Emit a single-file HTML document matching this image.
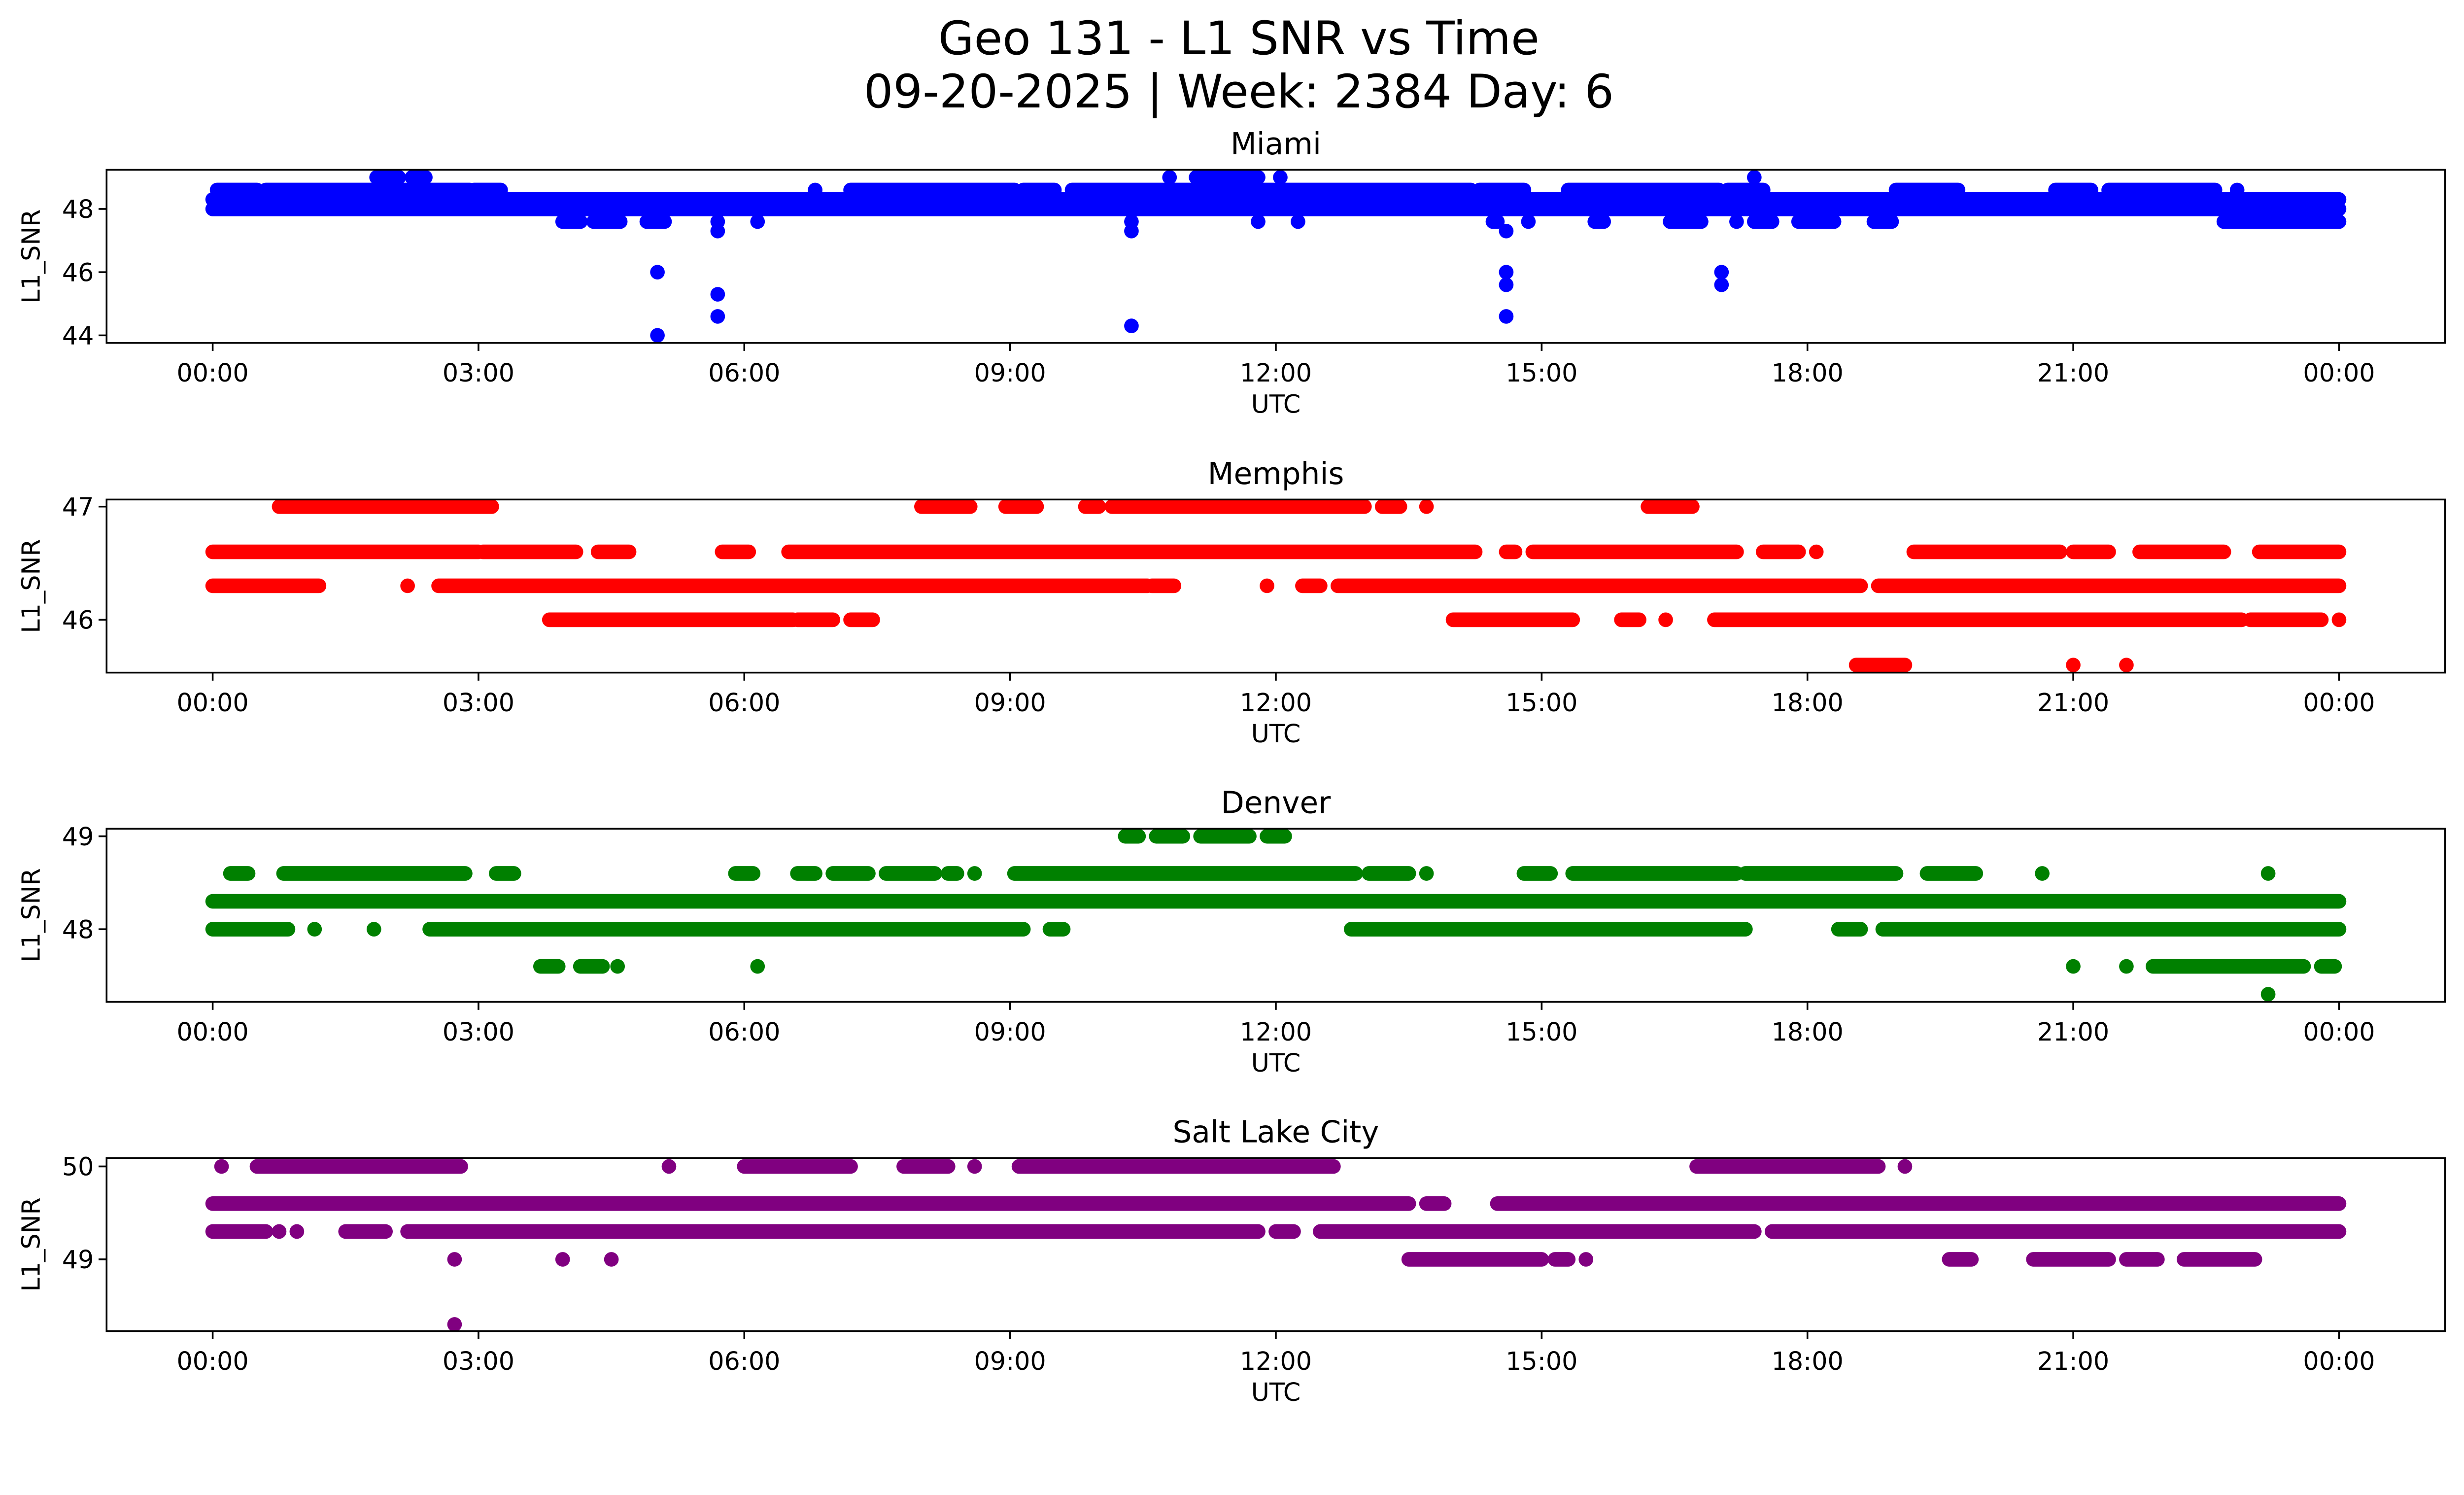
<!DOCTYPE html>
<html><head><meta charset="utf-8">
<style>
html,body{margin:0;padding:0;background:#fff;overflow:hidden;}
svg{display:block;width:100vw;height:calc(100vw * 3033 / 5225);font-family:"DejaVu Sans","Liberation Sans",sans-serif;}
</style></head>
<body>
<svg id="fig" viewBox="0 0 5225 3033" preserveAspectRatio="none" xmlns="http://www.w3.org/2000/svg">
<rect width="5225" height="3033" fill="#fff"/>
<text x="2627" y="115" font-size="98" text-anchor="middle">Geo 131 - L1 SNR vs Time</text>
<text x="2627" y="228" font-size="98" text-anchor="middle">09-20-2025 | Week: 2384 Day: 6</text>
<g id="plots"></g>
</svg>
<script>
// time ticks (hours) and labels
const xTickHours = [0,3,6,9,12,15,18,21,24];
const xTickLabels = ["00:00","03:00","06:00","09:00","12:00","15:00","18:00","21:00","00:00"];

// runs: [startHour, endHour, SNR level]
const miamiRuns = [
 [0,24,48.0],[0,24,48.3],
 [0.05,0.5,48.6],[0.6,2.9,48.6],[2.95,3.25,48.6],[6.8,6.8,48.6],[7.2,9.05,48.6],[9.15,9.5,48.6],[9.7,14.2,48.6],[14.3,14.8,48.6],
 [15.3,17.0,48.6],[17.1,17.5,48.6],[19.0,19.7,48.6],[20.8,21.2,48.6],[21.4,22.6,48.6],[22.85,22.85,48.6],
 [1.85,2.1,49.0],[2.25,2.4,49.0],[10.8,10.8,49.0],[11.1,11.8,49.0],[12.05,12.05,49.0],[17.4,17.4,49.0],
 [3.95,4.15,47.6],[4.3,4.6,47.6],[4.9,5.1,47.6],[5.7,5.7,47.6],[6.15,6.15,47.6],[10.37,10.37,47.6],[11.8,11.8,47.6],[12.25,12.25,47.6],
 [14.45,14.5,47.6],[14.85,14.85,47.6],[15.6,15.7,47.6],[16.45,16.8,47.6],[17.2,17.2,47.6],[17.4,17.6,47.6],[17.9,18.3,47.6],[18.75,18.95,47.6],[22.7,24,47.6],
 [5.7,5.7,47.3],[10.37,10.37,47.3],[14.6,14.6,47.3],
 [5.02,5.02,46.0],[5.02,5.02,44.0],[5.7,5.7,45.3],[5.7,5.7,44.6],[10.37,10.37,44.3],
 [14.6,14.6,46.0],[14.6,14.6,45.6],[14.6,14.6,44.6],[17.03,17.03,46.0],[17.03,17.03,45.6]
];
const memphisRuns = [
 [0,3.0,46.6],[3.05,4.1,46.6],[4.35,4.7,46.6],[5.75,6.05,46.6],[6.5,14.25,46.6],[14.6,14.7,46.6],[14.9,17.2,46.6],[17.5,17.9,46.6],[18.1,18.1,46.6],
 [19.2,20.85,46.6],[21.0,21.4,46.6],[21.75,22.7,46.6],[23.1,24,46.6],
 [0,1.2,46.3],[2.2,2.2,46.3],[2.55,10.55,46.3],[10.6,10.85,46.3],[11.9,11.9,46.3],[12.3,12.5,46.3],[12.7,18.6,46.3],[18.8,24,46.3],
 [0.75,3.15,47.0],[8.0,8.55,47.0],[8.95,9.3,47.0],[9.85,10.0,47.0],[10.15,13.0,47.0],[13.2,13.4,47.0],[13.7,13.7,47.0],[16.2,16.7,47.0],
 [3.8,6.55,46.0],[6.6,7.0,46.0],[7.2,7.45,46.0],[14.0,15.35,46.0],[15.9,16.1,46.0],[16.4,16.4,46.0],[16.95,22.9,46.0],[23.0,23.8,46.0],[24,24,46.0],
 [18.55,19.1,45.6],[21.0,21.0,45.6],[21.6,21.6,45.6]
];
const denverRuns = [
 [0,24,48.3],
 [0,0.85,48.0],[1.15,1.15,48.0],[1.82,1.82,48.0],[2.45,9.15,48.0],[9.45,9.6,48.0],[12.85,17.3,48.0],[18.35,18.6,48.0],[18.85,24,48.0],
 [0.2,0.4,48.6],[0.8,2.85,48.6],[3.2,3.4,48.6],[5.9,6.1,48.6],[6.6,6.8,48.6],[7.0,7.4,48.6],[7.6,8.15,48.6],[8.3,8.4,48.6],[8.6,8.6,48.6],
 [9.05,12.9,48.6],[13.05,13.5,48.6],[13.7,13.7,48.6],[14.8,15.1,48.6],[15.35,17.2,48.6],[17.3,19.0,48.6],[19.35,19.9,48.6],[20.65,20.65,48.6],[23.2,23.2,48.6],
 [10.3,10.45,49.0],[10.65,10.95,49.0],[11.15,11.7,49.0],[11.9,12.1,49.0],
 [3.7,3.9,47.6],[4.15,4.4,47.6],[4.57,4.57,47.6],[6.15,6.15,47.6],[21.0,21.0,47.6],[21.6,21.6,47.6],[21.9,23.6,47.6],[23.8,23.95,47.6],
 [23.2,23.2,47.3]
];
const saltLakeRuns = [
 [0,13.5,49.6],[13.7,13.9,49.6],[14.5,24,49.6],
 [0,0.6,49.3],[0.75,0.75,49.3],[0.95,0.95,49.3],[1.5,1.95,49.3],[2.2,11.8,49.3],[12.0,12.2,49.3],[12.5,17.4,49.3],[17.6,24,49.3],
 [0.1,0.1,50.0],[0.5,2.8,50.0],[5.15,5.15,50.0],[6.0,7.2,50.0],[7.8,8.3,50.0],[8.6,8.6,50.0],[9.1,12.65,50.0],[16.75,18.8,50.0],[19.1,19.1,50.0],
 [2.73,2.73,49.0],[3.95,3.95,49.0],[4.5,4.5,49.0],[13.5,15.0,49.0],[15.15,15.3,49.0],[15.5,15.5,49.0],[19.6,19.85,49.0],[20.55,21.4,49.0],[21.6,21.95,49.0],[22.25,23.05,49.0],
 [2.73,2.73,48.3]
];

const panelTitles = ["Miami","Memphis","Denver","Salt Lake City"];
const panelColors = ["#0000ff","#ff0000","#008000","#800080"];
const yTicksMiami = [44,46,48];
const yTicksMemphis = [46,47];
const yTicksDenver = [48,49];
const yTicksSaltLake = [49,50];
const yDomains = [[43.761,49.239],[45.533,47.0625],[47.218,49.081],[48.228,50.091]];

const NS = "http://www.w3.org/2000/svg";
const AX_L = 226, AX_R = 5185, H0 = 451, HSPAN = 4509, PH = 367;
const tops = [360,1059,1757,2455];
const allRuns = [miamiRuns,memphisRuns,denverRuns,saltLakeRuns];
const allTicks = [yTicksMiami,yTicksMemphis,yTicksDenver,yTicksSaltLake];
const R = 15.5;
function mk(tag, attrs, parent){const e=document.createElementNS(NS,tag);for(const k in attrs)e.setAttribute(k,attrs[k]);parent.appendChild(e);return e;}
const xScale = h => H0 + h/24*HSPAN;
const root = document.getElementById('plots');
const slug = ["miami","memphis","denver","salt-lake-city"];

for(let p=0;p<4;p++){
  const top=tops[p], bot=top+PH, dom=yDomains[p];
  const yScale = v => bot - (v-dom[0])/(dom[1]-dom[0])*PH;
  const g = mk('g',{},root);
  
  
  const clipId='clip'+p;
  const cp=mk('clipPath',{id:clipId},g);
  mk('rect',{x:AX_L,y:top,width:AX_R-AX_L,height:PH},cp);
  const marks=mk('g',{'clip-path':'url(#'+clipId+')',fill:panelColors[p]},g);
  
  
  for(const r of allRuns[p]){
    const x1=xScale(r[0]), x2=xScale(r[1]), y=yScale(r[2]);
    let el;
    if(r[1]<=r[0]){
      el=mk('circle',{cx:x1,cy:y,r:R},marks);
    }else{
      el=mk('rect',{x:x1-R,y:y-R,width:x2-x1+2*R,height:2*R,rx:R,ry:R},marks);
    }
    
    
  }
  const frame=mk('rect',{x:AX_L,y:top,width:AX_R-AX_L,height:PH,fill:'none',stroke:'#000','stroke-width':3.7},g);
  
  
  for(let i=0;i<xTickHours.length;i++){
    const x=xScale(xTickHours[i]);
    mk('line',{x1:x,y1:bot,x2:x,y2:bot+17,stroke:'#000','stroke-width':3.7},g);
    const t=mk('text',{x:x,y:bot+82,'font-size':53,'text-anchor':'middle'},g);
    t.textContent=xTickLabels[i];
    
    
  }
  for(const v of allTicks[p]){
    const y=yScale(v);
    mk('line',{x1:AX_L,y1:y,x2:AX_L-17,y2:y,stroke:'#000','stroke-width':3.7},g);
    const t=mk('text',{x:AX_L-27,y:y+19,'font-size':53,'text-anchor':'end'},g);
    t.textContent=String(v);
    
    
  }
  const xl=mk('text',{x:(AX_L+AX_R)/2,y:bot+148,'font-size':53,'text-anchor':'middle'},g);
  xl.textContent='UTC';
  
  
  const yc=top+PH/2;
  const yl=mk('text',{x:0,y:0,'font-size':53,'text-anchor':'middle',transform:'translate(84,'+yc+') rotate(-90)'},g);
  yl.textContent='L1_SNR';
  
  
  const tt=mk('text',{x:(AX_L+AX_R)/2,y:top-33,'font-size':64,'text-anchor':'middle'},g);
  tt.textContent=panelTitles[p];
  
  
}
</script>
</body></html>
